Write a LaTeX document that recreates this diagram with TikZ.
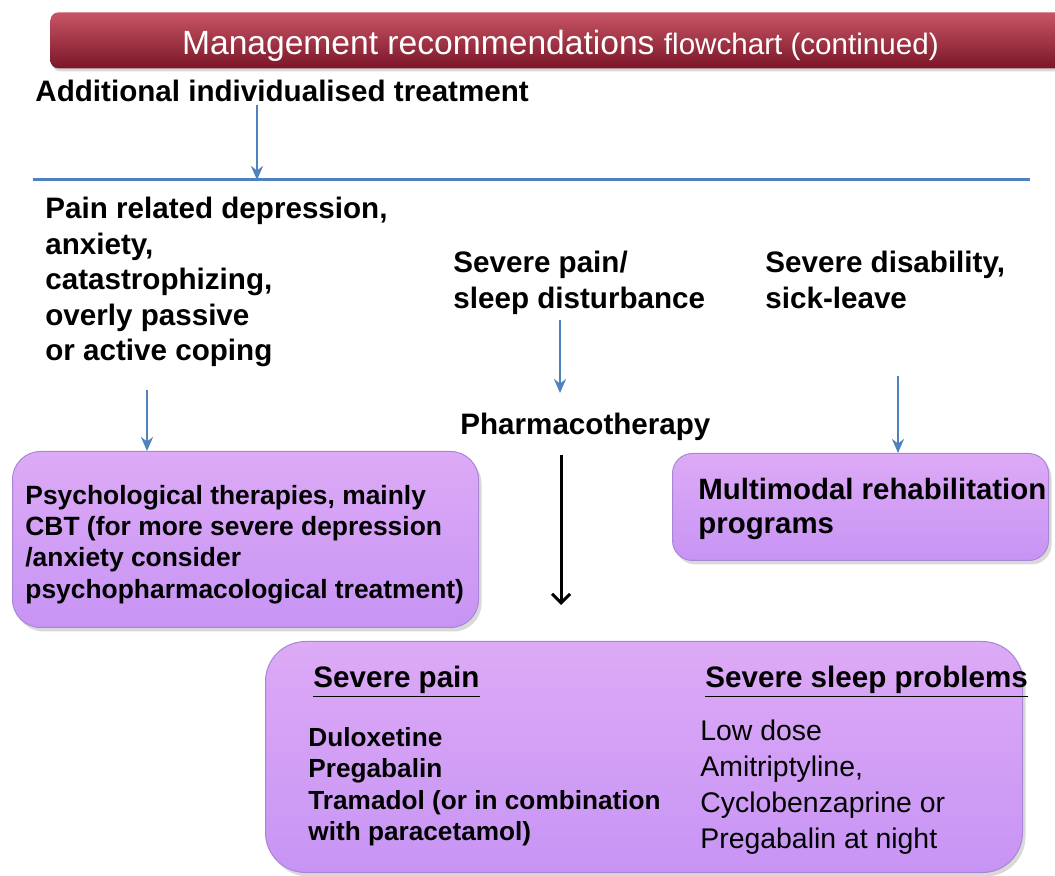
\documentclass[tikz,border=0pt]{standalone}
\usepackage{fontspec}
\setmainfont{Liberation Sans}
\usepackage{xcolor}
\usetikzlibrary{positioning,arrows.meta,shadows}
\definecolor{TitleTop}{HTML}{C85565}
\definecolor{TitleBottom}{HTML}{7A1628}
\definecolor{ArrowBlue}{HTML}{4F81BD}
\definecolor{BoxPurple}{HTML}{C794F5}
\definecolor{BoxLight}{HTML}{DDAAF6}
\definecolor{BoxEdge}{HTML}{A985D6}

\begin{document}
\begin{tikzpicture}[x=0.5pt, y=-0.5pt,
    txt/.style={inner sep=0pt, anchor=north west, align=left, font=\fontsize{14.8}{17.75}\selectfont\bfseries},
    bluearrow/.style={draw=ArrowBlue, line width=1.3pt, -{Stealth[length=7pt,width=6pt]}},
    blackarrow/.style={draw=black, line width=1.5pt, -{Straight Barb[length=4.5pt,width=9pt]}},
    purplebox/.style={draw=BoxEdge, line width=0.5pt, top color=BoxLight, middle color=BoxPurple, bottom color=BoxPurple,
      drop shadow={shadow xshift=1.5pt, shadow yshift=-2pt, opacity=0.3}, inner sep=0pt, anchor=north west}]
      \useasboundingbox (0,0) rectangle (1055,876);
      \clip (0,0) rectangle (1055,876);

      % Title bar
      \node[anchor=north west, minimum width=510pt, minimum height=28pt, rounded corners=4pt,
        top color=TitleTop, bottom color=TitleBottom, drop shadow={shadow xshift=1pt, shadow yshift=-1.5pt, opacity=0.3}] (titlebar) at (50,12) {};
      \node[text=white, font=\fontsize{16.8}{20}\selectfont] (title) at ([yshift=-2.5pt]titlebar.center)
        {Management recommendations {\fontsize{14.8}{18}\selectfont flowchart (continued)}};

      % Top branch
      \node[txt] (additional) at (35,80) {Additional individualised treatment};
      \coordinate (hleft) at (33,180);
      \coordinate (hright) at (1030,180);
      \draw[ArrowBlue, line width=1.5pt] (hleft) -- (hright);
      \coordinate (a0) at (257,105);
      \draw[bluearrow] (a0) -- (a0 |- hleft);

      % Problem groups
      \node[txt] (depr) at (45,197) {Pain related depression,\\anxiety,\\catastrophizing,\\overly passive\\or active coping};
      \node[txt] (sleep) at (453,251) {Severe pain/\\sleep disturbance};
      \node[txt] (disab) at (765,251) {Severe disability,\\sick-leave};
      \node[txt] (pharma) at (460,413) {Pharmacotherapy};

      % Treatment boxes
      \node[purplebox, rounded corners=14pt, minimum width=233pt, minimum height=88pt] (psych) at (12,451) {};
      \node[txt, anchor=west, font=\fontsize{13.2}{15.65}\selectfont\bfseries] (psychtext) at ([xshift=6.5pt,yshift=-2.5pt]psych.west)
        {Psychological therapies, mainly\\CBT (for more severe depression\\/anxiety consider\\psychopharmacological treatment)};

      \node[purplebox, rounded corners=10pt, minimum width=188pt, minimum height=53.5pt] (rehab) at (672,453) {};
      \node[txt, anchor=west, font=\fontsize{14.7}{17}\selectfont\bfseries] (rehabtext) at ([xshift=13pt,yshift=-1pt]rehab.west)
        {Multimodal rehabilitation\\programs};

      \node[purplebox, rounded corners=20pt, minimum width=378.5pt, minimum height=115.5pt] (drugs) at (265,641) {};
      \node[txt] (painhead) at ([shift={(48,25)}]drugs.north west) {\underline{Severe pain}};
      \node[txt] (sleephead) at ([shift={(440,25)}]drugs.north west) {\underline{Severe sleep problems}};
      \node[txt, font=\fontsize{13.1}{15.75}\selectfont\bfseries] (painlist) at ([shift={(43,86)}]drugs.north west)
        {Duloxetine\\Pregabalin\\Tramadol (or in combination\\with paracetamol)};
      \node[txt, font=\fontsize{14.2}{18}\selectfont] (sleeplist) at ([shift={(435,79)}]drugs.north west)
        {Low dose\\Amitriptyline,\\Cyclobenzaprine or\\Pregabalin at night};

      % Connectors
      \coordinate (a1) at (147,390);
      \draw[bluearrow] (a1) -- (a1 |- psych.north);
      \coordinate (a2) at (560,320);
      \draw[bluearrow, shorten >=10pt] (a2) -- (a2 |- pharma.north);
      \coordinate (a3) at (898,376);
      \draw[bluearrow] (a3) -- (a3 |- rehab.north);
      \coordinate (a4) at (561,455);
      \draw[blackarrow, shorten >=18pt] (a4) -- (a4 |- drugs.north);
    \end{tikzpicture}
\end{document}
